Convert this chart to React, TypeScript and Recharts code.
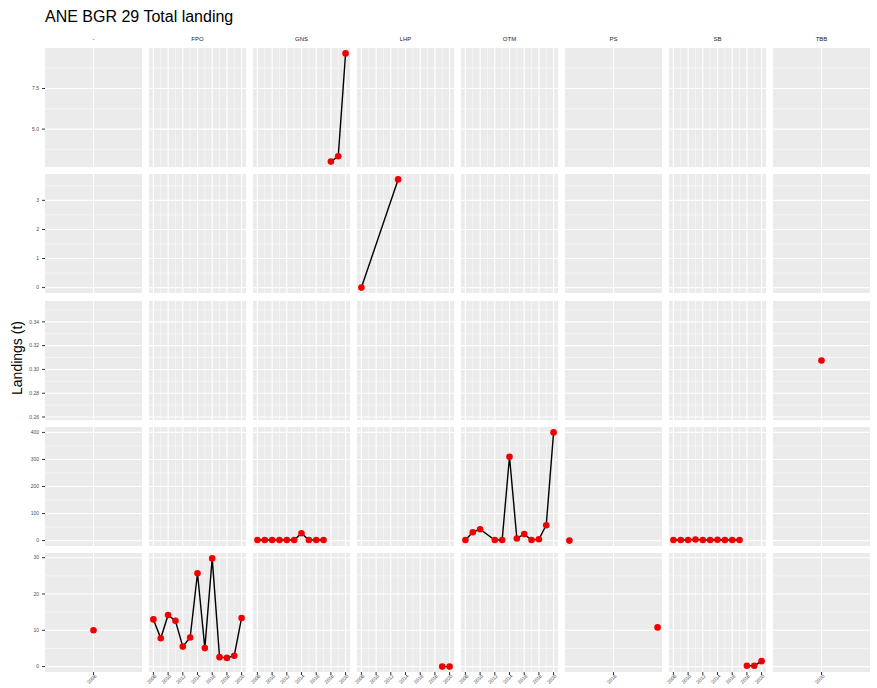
import React from 'react';
import { ComposedChart, Line, Scatter, XAxis, YAxis, CartesianGrid, ReferenceLine } from 'recharts';

const FACETS = ['-', 'FPO', 'GNS', 'LHP', 'OTM', 'PS', 'SB', 'TBB'];
const N_ROWS = 5;

// landings (t) by year, one array pair per facet panel
const dashYears = [2008];
const dashLand = [10];

const fpoYears = [2008, 2009, 2010, 2011, 2012, 2013, 2014, 2015, 2016, 2017, 2018, 2019, 2020];
const fpoLand = [13.0, 7.8, 14.2, 12.6, 5.5, 8.0, 25.7, 5.1, 29.8, 2.6, 2.4, 3.0, 13.4];

const gnsTopYears = [2018, 2019, 2020];
const gnsTopLand = [3.0, 3.33, 9.66];
const gnsYears = [2008, 2009, 2010, 2011, 2012, 2013, 2014, 2015, 2016, 2017];
const gnsLand = [2, 2, 2, 2, 2, 2, 27, 2, 2, 2];

const lhpYears = [2008, 2013];
const lhpLand = [0, 3.72];
const lhpLateYears = [2019, 2020];
const lhpLateLand = [0, 0];

const otmYears = [2008, 2009, 2010, 2012, 2013, 2014, 2015, 2016, 2017, 2018, 2019, 2020];
const otmLand = [2, 31, 42, 2, 2, 310, 8, 24, 2, 5, 57, 400];

const psYears = [2017];
const psLand = [0];
const psLateYears = [2019];
const psLateLand = [10.8];

const sbYears = [2008, 2009, 2010, 2011, 2012, 2013, 2014, 2015, 2016, 2017];
const sbLand = [2, 2, 2, 4, 2, 2, 3, 2, 2, 2];
const sbLateYears = [2018, 2019, 2020];
const sbLateLand = [0.25, 0.25, 1.5];

const tbbYears = [2020];
const tbbLand = [0.3075];

const SERIES = [
  { row: 4, col: 0, years: dashYears, land: dashLand },
  { row: 4, col: 1, years: fpoYears, land: fpoLand },
  { row: 0, col: 2, years: gnsTopYears, land: gnsTopLand },
  { row: 3, col: 2, years: gnsYears, land: gnsLand },
  { row: 1, col: 3, years: lhpYears, land: lhpLand },
  { row: 4, col: 3, years: lhpLateYears, land: lhpLateLand },
  { row: 3, col: 4, years: otmYears, land: otmLand },
  { row: 3, col: 5, years: psYears, land: psLand },
  { row: 4, col: 5, years: psLateYears, land: psLateLand },
  { row: 3, col: 6, years: sbYears, land: sbLand },
  { row: 4, col: 6, years: sbLateYears, land: sbLateLand },
  { row: 2, col: 7, years: tbbYears, land: tbbLand },
];

// axis breaks
const evenYears = [2008, 2010, 2012, 2014, 2016, 2018, 2020];
const oddYears = [2009, 2011, 2013, 2015, 2017, 2019];
const xBreaks = [[2008], evenYears, evenYears, evenYears, evenYears, [2018], evenYears, [2020]];
const xMinor = [[], oddYears, oddYears, oddYears, oddYears, [], oddYears, []];

const yBreaks = [
  [5, 7.5],
  [0, 1, 2, 3],
  [0.26, 0.28, 0.3, 0.32, 0.34],
  [0, 100, 200, 300, 400],
  [0, 10, 20, 30],
];
const yTickLabels = [
  ['5.0', '7.5'],
  ['0', '1', '2', '3'],
  ['0.26', '0.28', '0.30', '0.32', '0.34'],
  ['0', '100', '200', '300', '400'],
  ['0', '10', '20', '30'],
];
const yMinor = [
  [3.75, 6.25, 8.75],
  [0.5, 1.5, 2.5, 3.5],
  [0.27, 0.29, 0.31, 0.33, 0.35],
  [50, 150, 250, 350],
  [5, 15, 25],
];

// ggplot-like expansion: 5% each side, +-0.05 for a single value
const expand = (vals: number[]): [number, number] => {
  const lo = Math.min(...vals);
  const hi = Math.max(...vals);
  const w = hi === lo ? 1 : hi - lo;
  return [lo - w * 0.05, hi + w * 0.05];
};

const xDomains = FACETS.map((_, c) => expand(SERIES.filter((s) => s.col === c).flatMap((s) => s.years)));
const yDomains = Array.from({ length: N_ROWS }, (_, r) =>
  expand(SERIES.filter((s) => s.row === r).flatMap((s) => s.land))
);

const FONT = '"Liberation Sans", Arial, sans-serif';
const PANEL_W = 97;
const PANEL_H = 119;
const YW = 20;
const XH = 16;
const colLeft = (c: number) => 45 + c * 104;
const rowTop = (r: number) => 48 + r * 126.25;

const XTick = (props: any) => {
  const { x, y, payload } = props;
  return (
    <text
      x={x + 2}
      y={y}
      dy={2}
      textAnchor="end"
      fontSize={5}
      fontFamily={FONT}
      fill="#4D4D4D"
      transform={`rotate(-45, ${x + 2}, ${y})`}
    >
      {payload.value}
    </text>
  );
};

function Panel({ r, c }: { r: number; c: number }) {
  const pts = SERIES.filter((s) => s.row === r && s.col === c).flatMap((s) =>
    s.years.map((x, i) => ({ x, y: s.land[i] }))
  );
  const bottomRow = r === N_ROWS - 1;
  // room on the left for the y axis, or for rotated year labels that spill out
  const padL = c === 0 ? YW : bottomRow ? 8 : 0;
  const padB = bottomRow ? XH : 0;
  const YTick = (props: any) => {
    const { x, y, payload } = props;
    const label = yTickLabels[r][yBreaks[r].indexOf(payload.value)];
    return (
      <text x={x} y={y} dy={1.8} textAnchor="end" fontSize={5} fontFamily={FONT} fill="#4D4D4D">
        {label}
      </text>
    );
  };
  return (
    <div style={{ position: 'absolute', left: colLeft(c) - padL, top: rowTop(r) }}>
      <ComposedChart
        width={PANEL_W + padL}
        height={PANEL_H + padB}
        data={pts}
        margin={{ top: 0, right: 0, bottom: 0, left: c === 0 ? 0 : padL }}
      >
        <XAxis
          type="number"
          dataKey="x"
          domain={xDomains[c]}
          allowDataOverflow
          ticks={xBreaks[c]}
          interval={0}
          hide={!bottomRow}
          height={XH}
          axisLine={false}
          tickSize={3}
          tickMargin={0}
          tickLine={{ stroke: '#333333' }}
          tick={XTick}
        />
        <YAxis
          type="number"
          domain={yDomains[r]}
          allowDataOverflow
          ticks={yBreaks[r]}
          interval={0}
          hide={c !== 0}
          width={YW}
          axisLine={false}
          tickSize={3}
          tickMargin={3}
          tickLine={{ stroke: '#333333' }}
          tick={YTick}
        />
        <CartesianGrid fill="#EBEBEB" horizontal={false} vertical={false} />
        {yMinor[r].map((v) => (
          <ReferenceLine key={`hm${v}`} y={v} stroke="#FFFFFF" strokeWidth={0.5} />
        ))}
        {xMinor[c].map((v) => (
          <ReferenceLine key={`vm${v}`} x={v} stroke="#FFFFFF" strokeWidth={0.5} />
        ))}
        {yBreaks[r].map((v) => (
          <ReferenceLine key={`h${v}`} y={v} stroke="#FFFFFF" strokeWidth={1.1} />
        ))}
        {xBreaks[c].map((v) => (
          <ReferenceLine key={`v${v}`} x={v} stroke="#FFFFFF" strokeWidth={1.1} />
        ))}
        {pts.length > 1 && (
          <Line
            type="linear"
            dataKey="y"
            stroke="#000000"
            strokeWidth={1.4}
            dot={false}
            activeDot={false}
            isAnimationActive={false}
          />
        )}
        <Scatter
          dataKey="y"
          isAnimationActive={false}
          shape={(p: any) => <circle cx={p.cx} cy={p.cy} r={3.3} fill="#F00000" />}
        />
      </ComposedChart>
    </div>
  );
}

export default function App() {
  const panels = [];
  for (let r = 0; r < N_ROWS; r++) {
    for (let c = 0; c < FACETS.length; c++) {
      panels.push(<Panel key={`${r}-${c}`} r={r} c={c} />);
    }
  }
  return (
    <div style={{ position: 'absolute', left: 0, top: 0, width: 877, height: 688, background: '#fff' }}>
      <svg width={877} height={688} style={{ position: 'absolute', left: 0, top: 0 }}>
        <text x={45} y={22} fontSize={16} fontFamily={FONT} fill="#000">
          ANE BGR 29 Total landing
        </text>
        {FACETS.map((f, c) => (
          <text
            key={f}
            x={colLeft(c) + PANEL_W / 2}
            y={41}
            textAnchor="middle"
            fontSize={6}
            fontFamily={FONT}
            fill="#1A1A1A"
          >
            {f}
          </text>
        ))}
        <text
          x={22}
          y={358}
          textAnchor="middle"
          fontSize={14}
          fontFamily={FONT}
          fill="#000"
          transform="rotate(-90, 22, 358)"
        >
          Landings (t)
        </text>
      </svg>
      {panels}
    </div>
  );
}
